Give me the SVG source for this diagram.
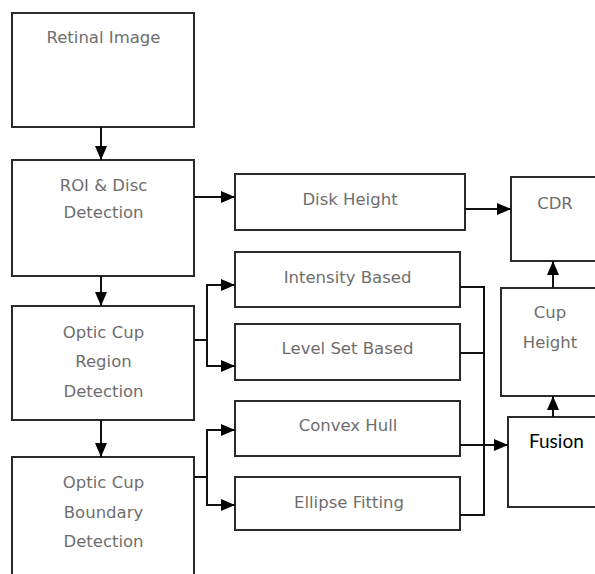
<svg xmlns="http://www.w3.org/2000/svg" width="595" height="574" viewBox="0 0 595 574">
  <defs>
    <marker id="arrow" viewBox="0 0 14 12" refX="14" refY="6" markerWidth="14" markerHeight="12" markerUnits="userSpaceOnUse" orient="auto">
      <path d="M0,0 L14,6 L0,12 Z" fill="#000"/>
    </marker>
    <style>
      .box { fill: #fff; stroke: #2a2a2a; stroke-width: 2; }
      .lbl { font-family: "DejaVu Sans", Verdana, sans-serif; font-size: 16.5px; fill: #6e6e6e; text-anchor: middle; }
      .lbl2 { font-family: Lato, Calibri, "Open Sans", sans-serif; font-size: 19px; fill: #000; }
      .wire { fill: none; stroke: #111; stroke-width: 2; }
      .arr { fill: none; stroke: #111; stroke-width: 2; marker-end: url(#arrow); }
    </style>
  </defs>
  <rect width="595" height="574" fill="#fff"/>

  <g id="retinal-image">
    <rect class="box" x="12" y="13" width="182" height="114"/>
    <text class="lbl" x="103.5" y="43">Retinal Image</text>
  </g>

  <g id="roi-disc-detection">
    <rect class="box" x="12" y="160" width="182" height="116"/>
    <text class="lbl" x="103.5" y="191">ROI &amp; Disc</text>
    <text class="lbl" x="103.5" y="218">Detection</text>
  </g>

  <g id="optic-cup-region">
    <rect class="box" x="12" y="306" width="182" height="114"/>
    <text class="lbl" x="103.5" y="338">Optic Cup</text>
    <text class="lbl" x="103.5" y="367">Region</text>
    <text class="lbl" x="103.5" y="397">Detection</text>
  </g>

  <g id="optic-cup-boundary">
    <rect class="box" x="12" y="457" width="182" height="130"/>
    <text class="lbl" x="103.5" y="488">Optic Cup</text>
    <text class="lbl" x="103.5" y="518">Boundary</text>
    <text class="lbl" x="103.5" y="547">Detection</text>
  </g>

  <g id="disk-height">
    <rect class="box" x="235" y="174" width="230" height="56"/>
    <text class="lbl" x="350" y="205">Disk Height</text>
  </g>

  <g id="intensity-based">
    <rect class="box" x="235" y="252" width="225" height="55"/>
    <text class="lbl" x="347.5" y="283">Intensity Based</text>
  </g>

  <g id="level-set-based">
    <rect class="box" x="235" y="324" width="225" height="56"/>
    <text class="lbl" x="347.5" y="354">Level Set Based</text>
  </g>

  <g id="convex-hull">
    <rect class="box" x="235" y="401" width="225" height="55"/>
    <text class="lbl" x="348" y="431">Convex Hull</text>
  </g>

  <g id="ellipse-fitting">
    <rect class="box" x="235" y="477" width="225" height="53"/>
    <text class="lbl" x="349" y="508">Ellipse Fitting</text>
  </g>

  <g id="cdr">
    <rect class="box" x="511" y="177" width="100" height="84"/>
    <text class="lbl" x="555" y="209">CDR</text>
  </g>

  <g id="cup-height">
    <rect class="box" x="501" y="288" width="110" height="108"/>
    <text class="lbl" x="550" y="318">Cup</text>
    <text class="lbl" x="550" y="348">Height</text>
  </g>

  <g id="fusion">
    <rect class="box" x="508" y="417" width="100" height="90"/>
    <text class="lbl2" x="529" y="448">Fusion</text>
  </g>

  <g id="connectors">
    <!-- main vertical chain -->
    <line class="arr" x1="101" y1="127" x2="101" y2="160"/>
    <line class="arr" x1="101" y1="276" x2="101" y2="306"/>
    <line class="arr" x1="101" y1="420" x2="101" y2="457"/>

    <!-- disc height path -->
    <line class="arr" x1="194" y1="197" x2="235" y2="197"/>
    <line class="arr" x1="465" y1="209" x2="511" y2="209"/>

    <!-- region detection fan-out -->
    <polyline class="wire" points="194,340 207,340"/>
    <polyline class="arr" points="207,340 207,285 235,285"/>
    <polyline class="arr" points="207,340 207,366 235,366"/>

    <!-- boundary detection fan-out -->
    <polyline class="wire" points="194,477 207,477"/>
    <polyline class="arr" points="207,477 207,430 235,430"/>
    <polyline class="arr" points="207,477 207,505 235,505"/>

    <!-- merge into fusion -->
    <polyline class="wire" points="460,287 484,287 484,515 460,515"/>
    <line class="wire" x1="460" y1="353" x2="484" y2="353"/>
    <line class="arr" x1="460" y1="445" x2="508" y2="445"/>

    <!-- fusion up to CDR -->
    <line class="arr" x1="553" y1="417" x2="553" y2="396"/>
    <line class="arr" x1="553" y1="288" x2="553" y2="261"/>
  </g>
</svg>
